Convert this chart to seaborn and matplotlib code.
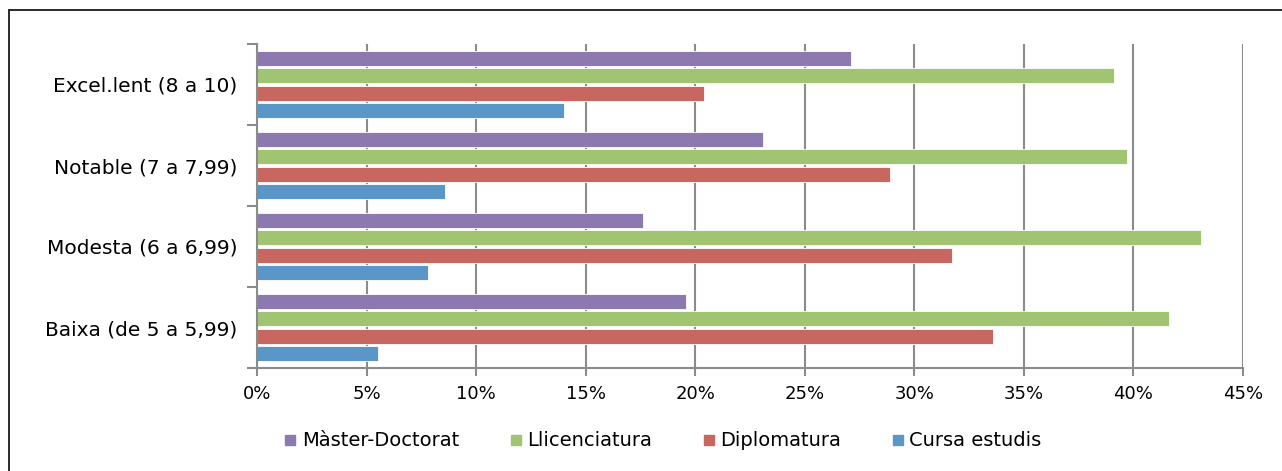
import pandas as pd
import matplotlib.pyplot as plt
import seaborn as sns
from matplotlib.ticker import FuncFormatter, FixedLocator
from matplotlib.lines import Line2D

# ==================== 数据 ====================
CATEGORIES = ["Excel.lent (8 a 10)", "Notable (7 a 7,99)", "Modesta (6 a 6,99)", "Baixa (de 5 a 5,99)"]
SERIES = ["Màster-Doctorat", "Llicenciatura", "Diplomatura", "Cursa estudis"]
MASTER = [27.1, 23.1, 17.6, 19.6]
LLICENCIATURA = [39.1, 39.7, 43.1, 41.6]
DIPLOMATURA = [20.4, 28.9, 31.7, 33.6]
CURSA = [14.0, 8.6, 7.8, 5.5]
COLORS = ["#8B79B0", "#A1C473", "#C8675F", "#5A96C8"]

rows = []
for name, vals in zip(SERIES, [MASTER, LLICENCIATURA, DIPLOMATURA, CURSA]):
    for cat, v in zip(CATEGORIES, vals):
        rows.append({"cat": cat, "serie": name, "val": v})
df = pd.DataFrame(rows)

sns.set_style("white")
plt.rcParams['font.family'] = ['DejaVu Sans']
plt.rcParams['text.color'] = 'black'
plt.rcParams['xtick.color'] = 'black'
plt.rcParams['ytick.color'] = 'black'
GRID = "#8A8C8C"

fig = plt.figure(figsize=(12.82, 4.71), dpi=100)
ax = fig.add_axes([257 / 1282, 1 - 368 / 471, (1243 - 257) / 1282, (368 - 44) / 471])

sns.barplot(data=df, y="cat", x="val", hue="serie", order=CATEGORIES, hue_order=SERIES,
            palette=COLORS, saturation=1, orient="h", width=0.85, gap=0.13, edgecolor="white",
            linewidth=0.6, ax=ax, legend=False)

ax.set_xlim(0, 45)
ax.set_ylim(3.5, -0.5)
ax.set_axisbelow(True)
ax.set_xticks(range(0, 46, 5))
ax.xaxis.set_major_formatter(FuncFormatter(lambda v, p: f"{int(v)}%"))
ax.grid(axis="x", color=GRID, linewidth=1.5)
ax.grid(axis="y", visible=False)

# 类别刻度在分组边界
ax.yaxis.set_minor_locator(FixedLocator([-0.5, 0.5, 1.5, 2.5, 3.5]))
ax.tick_params(axis="y", which="major", length=0, labelsize=14.5, pad=14)
ax.tick_params(axis="y", which="minor", length=7, width=1.5, color=GRID, left=True)
ax.tick_params(axis="x", which="major", length=6, width=1.5, color=GRID, bottom=True,
               labelsize=13, pad=6)
ax.set_xlabel("")
ax.set_ylabel("")

for s in ["top", "right"]:
    ax.spines[s].set_visible(False)
for s in ["left", "bottom"]:
    ax.spines[s].set_color(GRID)
    ax.spines[s].set_linewidth(1.5)

# 图例
handles = [Line2D([], [], marker="s", linestyle="none", markersize=7, color=c) for c in COLORS]
fig.legend(handles, SERIES, loc="center", bbox_to_anchor=(663 / 1282, 1 - 441 / 471), ncol=4,
           frameon=False, fontsize=14, handlelength=0.6, handletextpad=0.3, columnspacing=2.6)

# 外框（左、上）
fig.add_artist(Line2D([9 / 1282, 9 / 1282], [0, 1 - 10 / 471], transform=fig.transFigure,
                      color="#1a1a1a", linewidth=1.3))
fig.add_artist(Line2D([9 / 1282, 1], [1 - 10 / 471, 1 - 10 / 471], transform=fig.transFigure,
                      color="#1a1a1a", linewidth=1.3))

plt.savefig("out.png", dpi=100)
plt.close()
